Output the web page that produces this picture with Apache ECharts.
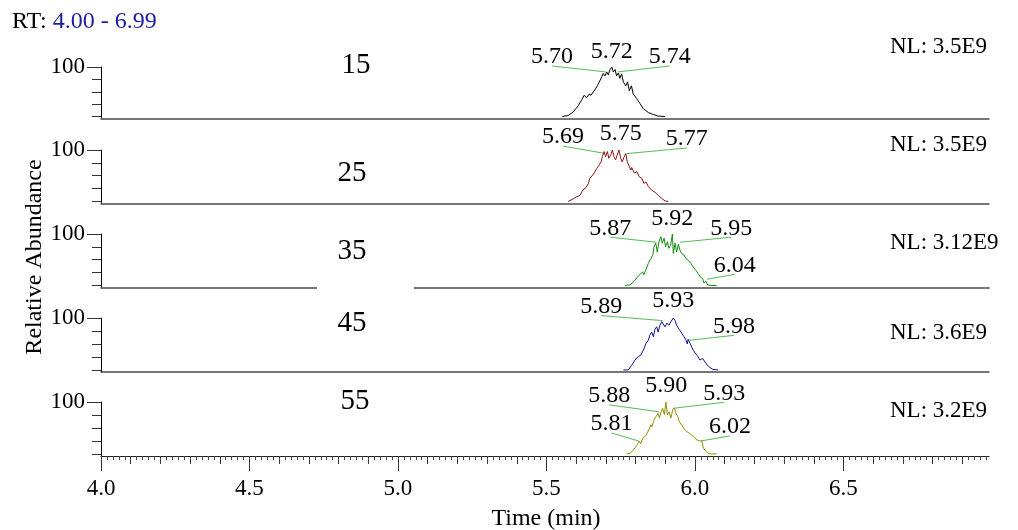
<!DOCTYPE html>
<html><head><meta charset="utf-8">
<script src="https://cdn.jsdelivr.net/npm/echarts@6/dist/echarts.min.js"></script>
<style>html,body{margin:0;padding:0;background:#fff}#c{width:1018px;height:530px}</style>
</head><body><div id="c"></div>
<script>
// ---------- data ----------
const panelNames = ['15','25','35','45','55'];
const nlLabels = ['NL: 3.5E9','NL: 3.5E9','NL: 3.12E9','NL: 3.6E9','NL: 3.2E9'];
const rtRange = '4.00 - 6.99';
const xMajorTicks = [4.0,4.5,5.0,5.5,6.0,6.5];
const yMinorTicks = [0,25,50,75];
const yMajorTicks = [100];

const rt15 = [5.553,5.573,5.590,5.607,5.619,5.627,5.635,5.643,5.650,5.658,5.666,5.672,5.678,5.686,5.691,5.697,5.703,5.708,5.714,5.720,5.725,5.731,5.736,5.742,5.747,5.753,5.759,5.767,5.773,5.779,5.786,5.792,5.804,5.815,5.826,5.843,5.860,5.875,5.899];
const ab15 = [0,2,9,22,34,43,38,45,43,50,57,63,70,80,87,82,90,84,95,100,90,95,82,88,77,86,70,62,70,52,62,46,36,26,16,8,4,1,0];

const rt25 = [5.573,5.590,5.602,5.613,5.622,5.633,5.641,5.646,5.652,5.658,5.663,5.669,5.674,5.680,5.684,5.688,5.694,5.699,5.705,5.710,5.716,5.722,5.727,5.733,5.738,5.744,5.750,5.755,5.761,5.767,5.772,5.779,5.784,5.787,5.796,5.804,5.812,5.821,5.828,5.835,5.843,5.854,5.865,5.876,5.888,5.899,5.910];
const ab25 = [0,5,9,12,22,27,35,45,44,53,58,64,68,66,77,87,97,87,97,84,90,100,87,81,90,100,84,77,86,93,77,68,61,66,55,58,48,45,35,38,29,22,18,12,6,1,0];

const rt35 = [5.764,5.781,5.795,5.806,5.817,5.824,5.828,5.835,5.843,5.851,5.858,5.862,5.868,5.873,5.879,5.885,5.890,5.896,5.901,5.907,5.912,5.918,5.924,5.927,5.933,5.938,5.944,5.949,5.955,5.963,5.970,5.977,5.986,5.994,6.003,6.011,6.019,6.026,6.030,6.037,6.043,6.053,6.073];
const ab35 = [0,1,8,16,23,26,21,31,43,52,59,75,82,65,85,95,82,92,75,85,72,78,100,62,82,65,80,69,62,59,52,49,43,36,29,23,16,13,5,8,1,0,0];

const rt45 = [5.759,5.775,5.787,5.798,5.809,5.817,5.826,5.835,5.843,5.848,5.854,5.860,5.865,5.871,5.876,5.882,5.888,5.893,5.899,5.905,5.912,5.919,5.927,5.933,5.938,5.947,5.955,5.963,5.970,5.974,5.977,5.986,5.994,6.003,6.011,6.017,6.026,6.034,6.045,6.060,6.078];
const ab45 = [0,0,9,19,26,28,38,51,57,67,73,64,78,83,73,86,93,90,83,90,86,93,100,95,86,78,71,64,57,50,59,48,38,31,25,19,22,15,7,1,0];

const rt55 = [5.770,5.781,5.792,5.806,5.812,5.817,5.824,5.828,5.835,5.839,5.846,5.851,5.855,5.860,5.865,5.871,5.876,5.880,5.886,5.891,5.897,5.902,5.907,5.913,5.919,5.925,5.930,5.936,5.942,5.947,5.955,5.963,5.972,5.981,5.989,5.997,6.006,6.015,6.023,6.028,6.035,6.043,6.051,6.073];
const ab55 = [0,1,7,18,25,20,30,27,36,35,48,56,52,62,69,72,78,69,81,88,76,100,75,81,69,85,89,78,72,62,56,49,43,40,36,33,27,25,25,12,6,2,0,0];

// labelled peak times and the abundance where the label points
const ann15 = [5.70,5.72,5.74],           annAb15 = [90,100,90];
const ann25 = [5.69,5.75,5.77],           annAb25 = [94,100,93];
const ann35 = [5.87,5.92,5.95,6.04],      annAb35 = [84,100,84,12];
const ann45 = [5.89,5.93,5.98],           annAb45 = [95,100,57];
const ann55 = [5.88,5.90,5.93,5.81,6.02], annAb55 = [81,100,88,25,25];

// ---------- layout / style ----------
const FONT = '"Liberation Serif","Times New Roman",serif';
const W = 1018, H = 530;
const gridLeft = 101, gridRight = 29;
const gridTops = [67,150,234,318,402];
const gridBases = [118.5,203.5,287.5,372,456];
const traceColors = ['#000000','#8e1414','#128c12','#12128e','#8f8f00'];
const leaderColor = '#52bd52';
const labelOffsets = [
  [[-54,-15],[0,-15],[52,-15]],
  [[-40,-16],[0,-16],[60,-14.6]],
  [[-46,-14],[1,-15.5],[51,-14],[28,-14]],
  [[-61,-14],[-1,-17],[45,-14]],
  [[-50,-16],[1,-16],[50,-15],[-27,-17],[29,-14]]
];
const sampleLabelPos = [[356,65],[352,173],[352,251],[352,323],[355,401]];
const nlPos = [[890,47],[890,145],[890,243],[890,333],[890,411]];

const traces = [[rt15,ab15],[rt25,ab25],[rt35,ab35],[rt45,ab45],[rt55,ab55]];
const anns = [[ann15,annAb15],[ann25,annAb25],[ann35,annAb35],[ann45,annAb45],[ann55,annAb55]];

const mediumTicks = []; for (let i = 0; i < 30; i++) mediumTicks.push(Math.round((4 + i*0.1)*100)/100);
const minorTicks = [];  for (let i = 0; i < 150; i++) minorTicks.push(Math.round((4 + i*0.02)*100)/100);

const grids = [], xAxes = [], yAxes = [], series = [];
for (let i = 0; i < 5; i++) {
  grids.push({left: gridLeft, right: gridRight, top: gridTops[i], bottom: H - gridBases[i], outerBoundsMode: 'none', containLabel: false});
  const last = i === 4;
  xAxes.push({
    gridIndex: i, type: 'value', min: 4.0, max: 6.99, position: 'bottom',
    axisLine: {show: true, onZero: false, lineStyle: {color: last ? '#222' : '#4a4a4a', width: last ? 1.2 : 1.5}},
    axisTick: last ? {show: true, customValues: xMajorTicks, length: 15, lineStyle: {color: '#333', width: 1}} : {show: false},
    axisLabel: last ? {show: true, customValues: xMajorTicks, formatter: v => Number(v).toFixed(1), margin: 21,
      fontSize: 23, fontFamily: FONT, color: '#000'} : {show: false},
    splitLine: {show: false}
  });
  yAxes.push({
    gridIndex: i, type: 'value', min: -4, max: 100, position: 'left',
    axisLine: {show: true, onZero: false, lineStyle: {color: '#000', width: 1}},
    axisTick: {show: true, customValues: yMinorTicks, length: 9, lineStyle: {color: '#333'}},
    axisLabel: {show: false}, splitLine: {show: false}
  });
  series.push({
    type: 'line', xAxisIndex: i, yAxisIndex: i, showSymbol: false, symbol: 'none',
    data: traces[i][0].map((t, k) => [t, traces[i][1][k]]),
    lineStyle: {color: traceColors[i], width: 1}, animation: false, z: 3
  });
  const offs = labelOffsets[i];
  series.push({
    type: 'custom', coordinateSystem: 'cartesian2d', xAxisIndex: i, yAxisIndex: i, clip: false, z: 4,
    data: anns[i][0].map((t, k) => [t, anns[i][1][k]]),
    renderItem: (params, api) => {
      const t = api.value(0);
      const p = api.coord([t, api.value(1)]);
      const o = offs[params.dataIndex];
      const cx = p[0] + o[0], cy = p[1] + o[1];
      const children = [{type: 'text', x: cx, y: cy, style: {text: t.toFixed(2), font: '24px ' + FONT, fill: '#000', align: 'center', verticalAlign: 'middle'}}];
      if (Math.abs(o[0]) > 4) children.push({type: 'line', shape: {x1: cx, y1: cy + 9, x2: p[0], y2: p[1]}, style: {stroke: leaderColor, lineWidth: 1}});
      return {type: 'group', children};
    },
    animation: false
  });
}
// overlay y axes for the long "100" tick and label
for (let i = 0; i < 5; i++) {
  yAxes.push({
    gridIndex: i, type: 'value', min: -4, max: 100, position: 'left',
    axisLine: {show: false, onZero: false},
    axisTick: {show: true, customValues: yMajorTicks, length: 14, lineStyle: {color: '#333'}},
    axisLabel: {show: true, customValues: yMajorTicks, margin: 16, fontSize: 23, fontFamily: FONT, color: '#000'},
    splitLine: {show: false}
  });
}
// medium (0.1) and minor (0.02) ticks on the bottom axis
xAxes.push({gridIndex: 4, type: 'value', min: 4.0, max: 6.99, position: 'bottom',
  axisLine: {show: false, onZero: false}, axisTick: {show: true, customValues: mediumTicks, length: 8, lineStyle: {color: '#333'}},
  axisLabel: {show: false}, splitLine: {show: false}});
xAxes.push({gridIndex: 4, type: 'value', min: 4.0, max: 6.99, position: 'bottom',
  axisLine: {show: false, onZero: false}, axisTick: {show: true, customValues: minorTicks, length: 4, lineStyle: {color: '#444'}},
  axisLabel: {show: false}, splitLine: {show: false}});

const graphics = [
  {type: 'text', x: 12, y: 22, style: {text: '{a|RT: }{b|' + rtRange + '}', font: '24px ' + FONT, verticalAlign: 'middle',
    rich: {a: {fill: '#000', font: '24px ' + FONT}, b: {fill: '#1c1ca0', font: '24px ' + FONT}}}},
  {type: 'text', x: 35, y: 257, rotation: Math.PI / 2, style: {text: 'Relative Abundance', font: '24px ' + FONT, fill: '#000', align: 'center', verticalAlign: 'middle'}},
  {type: 'text', x: 546, y: 519, style: {text: 'Time (min)', font: '24px ' + FONT, fill: '#000', align: 'center', verticalAlign: 'middle'}},
  {type: 'rect', shape: {x: 317, y: 285, width: 97, height: 5}, style: {fill: '#fff'}, z: 100}
];
for (let i = 0; i < 5; i++) {
  graphics.push({type: 'text', x: sampleLabelPos[i][0], y: sampleLabelPos[i][1], style: {text: panelNames[i], font: '29px ' + FONT, fill: '#000', align: 'center', verticalAlign: 'middle'}});
  graphics.push({type: 'text', x: nlPos[i][0], y: nlPos[i][1], style: {text: nlLabels[i], font: '23px ' + FONT, fill: '#000', align: 'left', verticalAlign: 'middle'}});
}

const chart = echarts.init(document.getElementById('c'), null, {renderer: 'canvas'});
chart.setOption({
  animation: false, backgroundColor: '#fff',
  grid: grids, xAxis: xAxes, yAxis: yAxes, series: series, graphic: graphics
});
</script></body></html>
